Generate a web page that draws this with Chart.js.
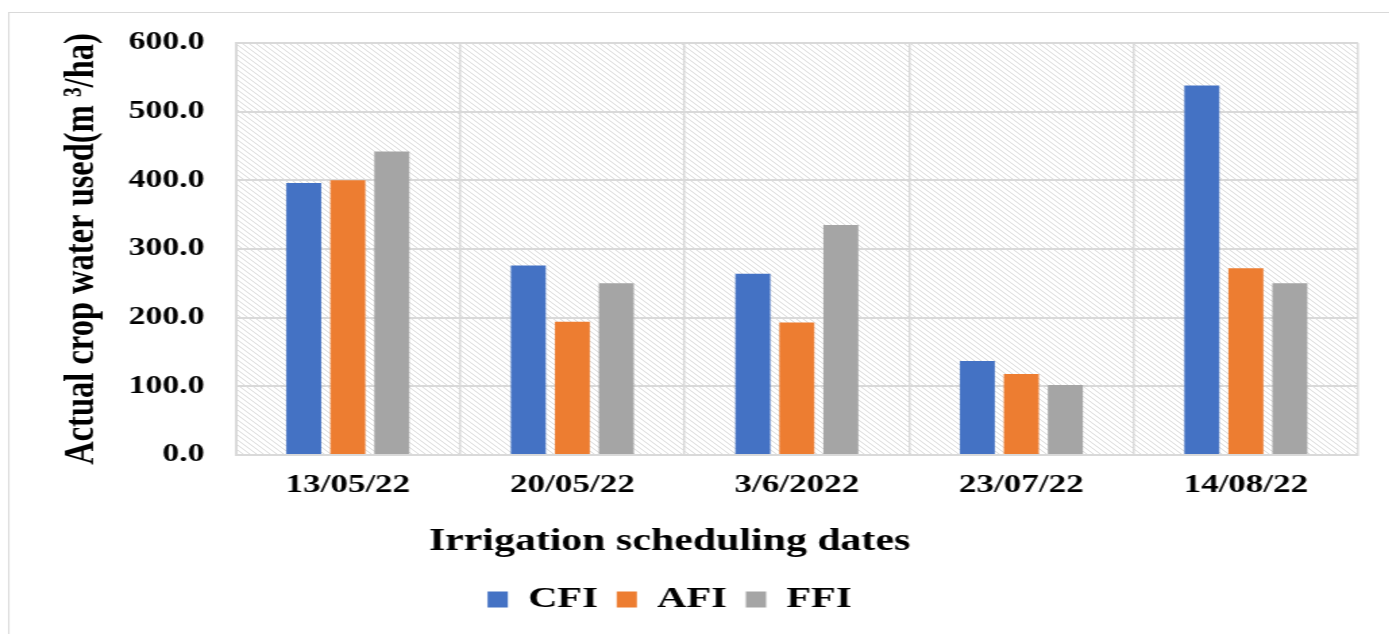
<!DOCTYPE html>
<html>
<head>
<meta charset="utf-8">
<script src="https://cdn.jsdelivr.net/npm/chart.js@4.4.1/dist/chart.umd.min.js"></script>
<style>
  html, body { margin:0; padding:0; background:#fff; overflow:hidden; }
  /* the source picture is stretched sideways, so the whole stage is too */
  #stage { position:absolute; left:0; top:0; width:1029px; height:634px;
           transform:scaleX(1.35); transform-origin:0 0; }
  #frame { position:absolute; left:5.9px; top:12px; right:-20px; bottom:-20px;
           border-top:1.5px solid #d9d9d9; border-left:1.5px solid #d9d9d9; }
  #chart { position:absolute; left:-14.4px; top:0; width:1024px; height:634px; }
</style>
</head>
<body>
<div id="stage">
  <div id="frame"></div>
  <canvas id="chart" width="1024" height="634"></canvas>
</div>
<script>
var dates = ['13/05/22', '20/05/22', '3/6/2022', '23/07/22', '14/08/22'];
var cfi = [396, 276, 264, 137, 538];
var afi = [400, 194, 193, 118, 272];
var ffi = [442, 250, 335, 102, 250];
var yTicks = [0, 100, 200, 300, 400, 500, 600];

var serif = '"Liberation Serif", "Times New Roman", serif';
var gridGray = '#d9d9d9';

// diagonal hatch for the plot area
function hatch() {
  var c = document.createElement('canvas');
  c.width = 5; c.height = 5;
  var g = c.getContext('2d');
  g.fillStyle = '#fff';
  g.fillRect(0, 0, 5, 5);
  g.strokeStyle = '#dadada';
  g.lineWidth = 1;
  g.beginPath();
  g.moveTo(-1, -1); g.lineTo(6, 6);
  g.moveTo(-1, 4); g.lineTo(1, 6);
  g.moveTo(4, -1); g.lineTo(6, 1);
  g.stroke();
  return g.createPattern(c, 'repeat');
}

var plotBack = {
  id: 'plotBack',
  beforeDraw(chart) {
    let a = chart.chartArea;
    let ctx = chart.ctx;
    ctx.save();
    ctx.fillStyle = hatch();
    ctx.fillRect(a.left, a.top, a.right - a.left, a.bottom - a.top);
    ctx.restore();
  }
};

var ctx = document.getElementById('chart').getContext('2d');
new Chart(ctx, {
  type: 'bar',
  data: {
    labels: dates,
    datasets: [
      {label: 'CFI', data: cfi, backgroundColor: '#4472C4', borderWidth: 0},
      {label: 'AFI', data: afi, backgroundColor: '#ED7D31', borderWidth: 0},
      {label: 'FFI', data: ffi, backgroundColor: '#A5A5A5', borderWidth: 0}
    ]
  },
  options: {
    responsive: false,
    animation: false,
    categoryPercentage: 0.588,
    barPercentage: 0.795,
    layout: {padding: {top: 43, right: 4, bottom: 9.5, left: 0}},
    scales: {
      x: {
        grid: {color: gridGray, lineWidth: 1.5, drawTicks: false, offset: true},
        border: {display: true, color: gridGray, width: 2},
        ticks: {
          color: '#000', padding: 15, maxRotation: 0, autoSkip: false,
          font: {family: serif, size: 26, weight: 'bold'}
        }
      },
      y: {
        min: 0, max: 600,
        afterFit(scale) { scale.width = 188.5; },
        afterBuildTicks(scale) { scale.ticks = yTicks.map(v => ({value: v})); },
        grid: {color: gridGray, lineWidth: 2, drawTicks: false},
        border: {display: true, color: gridGray, width: 2},
        ticks: {
          color: '#000', padding: 23,
          font: {family: serif, size: 25, weight: 'bold'},
          callback: v => Number(v).toFixed(1)
        },
        title: {
          display: true,
          text: 'Actual crop water used(m \u00B3/ha)',
          color: '#000',
          padding: {top: 55.5, bottom: 0},
          font: {family: serif, size: 32.5, weight: 'bold'}
        }
      }
    },
    plugins: {
      tooltip: {enabled: false},
      title: {
        display: true,
        position: 'bottom',
        weight: 500,
        text: 'Irrigation scheduling dates',
        color: '#000',
        padding: {top: 7.2, bottom: 9.9},
        font: {family: serif, size: 31, weight: 'bold'}
      },
      legend: {
        position: 'bottom',
        weight: 1000,
        labels: {
          color: '#000',
          boxWidth: 15, boxHeight: 16,
          padding: 14,
          font: {family: serif, size: 30, weight: 'bold'}
        }
      }
    }
  },
  plugins: [plotBack]
});
</script>
</body>
</html>
